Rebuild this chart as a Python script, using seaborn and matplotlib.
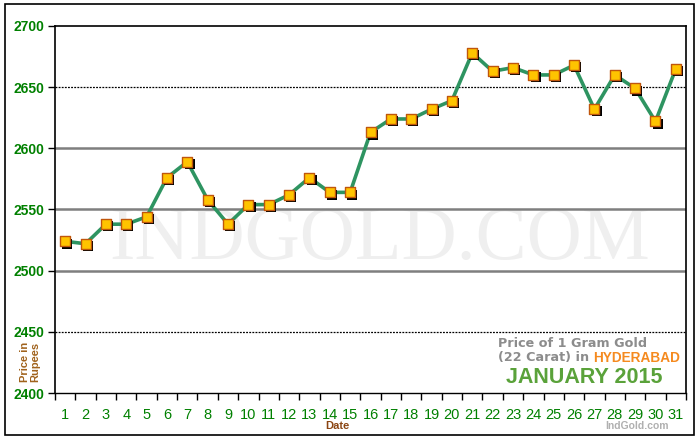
import matplotlib
matplotlib.use("Agg")
import matplotlib.pyplot as plt
import matplotlib.transforms as mtransforms
from matplotlib.patches import Rectangle
import seaborn as sns
import pandas as pd

days = list(range(1, 32))
prices = [2524, 2522, 2538, 2538, 2544, 2576, 2589, 2558, 2538, 2554,
          2554, 2562, 2576, 2564, 2564, 2613, 2624, 2624, 2632, 2639,
          2678, 2663, 2666, 2660, 2660, 2668, 2632, 2660, 2649, 2622, 2665]
y_ticks = [2400, 2450, 2500, 2550, 2600, 2650, 2700]

df = pd.DataFrame({"Date": days, "Price": prices})

sns.set_theme(style="white")
plt.rcParams['font.family'] = ['Liberation Sans', 'DejaVu Sans']

fig = plt.figure(figsize=(7, 4.4), dpi=100)
ax = fig.add_axes([55/700, 1-393/440, (686-55)/700, (393-26)/440])

# gridlines
for v in [2500, 2550, 2600]:
    ax.axhline(v, color="#7f7f7f", lw=1.8, zorder=1)
for v in [2450, 2650]:
    ax.axhline(v, color="black", lw=0.9, ls=(0, (1.5, 1)), zorder=1)

# watermark
ax.text(0.515, 0.415, "INDGOLD.COM", transform=ax.transAxes, ha="center", va="center",
        fontsize=55, family=["Liberation Serif", "DejaVu Serif"], color="#efefef", zorder=0.5)

sns.lineplot(data=df, x="Date", y="Price", ax=ax, color="#2e9461", lw=2.6, zorder=2)

shadow = mtransforms.offset_copy(ax.transData, fig=fig, x=1.6, y=-1.6, units="points")
ax.scatter(df["Date"], df["Price"], marker="s", s=52, color="black", transform=shadow, zorder=3, linewidths=0)
sns.scatterplot(data=df, x="Date", y="Price", ax=ax, marker="s", s=52, color="#ffc400",
                edgecolor="#c0560c", linewidth=1.0, zorder=4)

ax.set_xlim(0.5, 31.5)
ax.set_ylim(2400, 2700)
ax.set_yticks(y_ticks)
ax.set_yticklabels([str(v) for v in y_ticks], color="#008000", fontsize=10, fontweight="bold")
ax.set_xticks(days)
ax.set_xticklabels([str(d) for d in days], color="#008000", fontsize=10.5,
                   family=["Liberation Sans Narrow", "Liberation Sans", "DejaVu Sans"])
ax.set_xticks([d + 0.5 for d in range(0, 32)], minor=True)
ax.tick_params(axis="x", which="major", length=0, pad=11)
ax.tick_params(axis="x", which="minor", length=5, width=1, color="black", direction="out", bottom=True)
ax.tick_params(axis="y", length=5, width=1, color="black", direction="out", left=True, pad=3)
ax.set_xlabel("")
ax.set_ylabel("")

for s in ["left", "right", "top"]:
    ax.spines[s].set_color("black")
    ax.spines[s].set_linewidth(1.2)
ax.spines["bottom"].set_color("black")
ax.spines["bottom"].set_linewidth(1.0)
ax.spines["bottom"].set_linestyle((0, (2, 1)))

# labels
fig.text(337/700, 1-426/440, "Date", ha="center", va="center", color="#8b4513",
         fontsize=8, fontweight="bold")
fig.text(30/700, 1-362/440, "Price in\nRupees", ha="center", va="center", rotation=90,
         color="#a0621c", fontsize=8, fontweight="bold", linespacing=1.0)
fig.text(669/700, 1-426/440, "IndGold.com", ha="right", va="center", color="#b0b0b0",
         fontsize=7.5, fontweight="bold")

# title box
fig.text(498/700, 1-343/440, "Price of 1 Gram Gold", ha="left", va="center",
         color="#8c8c8c", fontsize=9.2, fontweight="bold", family=["DejaVu Sans"])
t1 = fig.text(498/700, 1-358/440, "(22 Carat) in ", ha="left", va="center",
              color="#8c8c8c", fontsize=9.2, fontweight="bold", family=["DejaVu Sans"])
fig.canvas.draw()
bb = t1.get_window_extent()
fig.text(bb.x1/700, 1-358/440, "HYDERABAD", ha="left", va="center",
         color="#f58a1f", fontsize=9.8, fontweight="bold", family=["Liberation Sans"])
fig.text(663/700, 1-377/440, "JANUARY 2015", ha="right", va="center",
         color="#5aa23a", fontsize=15.5, fontweight="bold")

# outer frame
fig.patches.append(Rectangle((5/700, 5/440), 689/700, 431/440, transform=fig.transFigure,
                             fill=False, edgecolor="black", lw=1.2))

fig.savefig("out.png", dpi=100, facecolor="white")
